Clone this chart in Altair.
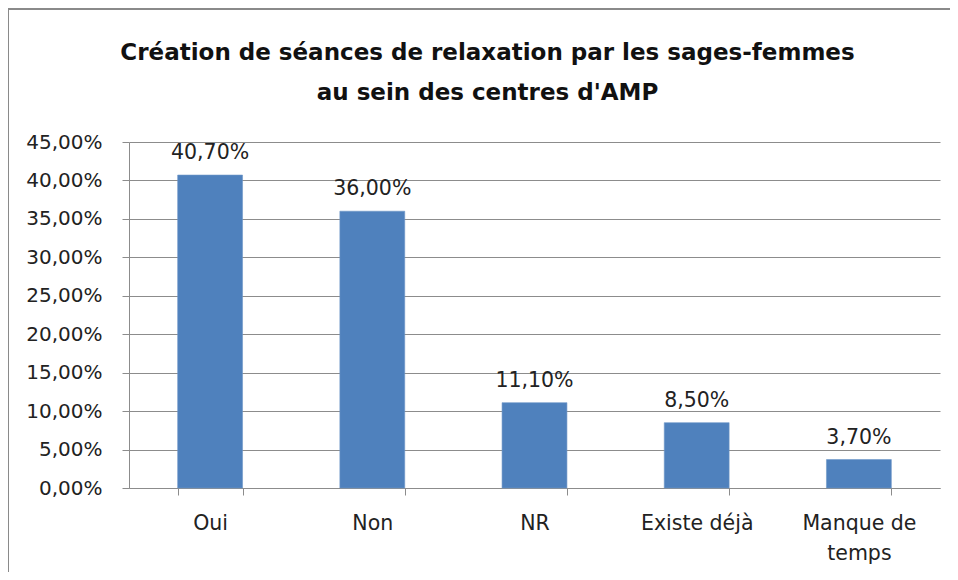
import altair as alt
import pandas as pd

categories = ["Oui", "Non", "NR", "Existe déjà", "Manque de temps"]
values = [0.407, 0.360, 0.111, 0.085, 0.037]
y_ticks = [0, 0.05, 0.10, 0.15, 0.20, 0.25, 0.30, 0.35, 0.40, 0.45]
title_lines = ["Création de séances de relaxation par les sages-femmes", "au sein des centres d'AMP"]

df = pd.DataFrame({"cat": categories, "val": values})

FONT = "DejaVu Sans"
GRID = "#8c8c8c"

x_axis = alt.Axis(labelAngle=0, labelFont=FONT, labelFontSize=20.5, labelColor="#222222",
                  domainColor=GRID, tickColor=GRID, tickSize=7, tickBand="extent",
                  labelPadding=18, labelLineHeight=30, labelBaseline="top",
                  labelExpr="datum.value == 'Manque de temps' ? ['Manque de', 'temps'] : datum.value")
y_axis = alt.Axis(values=y_ticks, tickCount=10, labelFont=FONT, labelFontSize=20, labelColor="#222222",
                  domainColor=GRID, tickColor=GRID, tickSize=7, labelPadding=20,
                  gridColor=GRID, grid=True, labelOverlap=False,
                  labelExpr="replace(format(datum.value, '.2%'), '.', ',')")
x_scale = alt.Scale(paddingInner=0.6, paddingOuter=0.3)
y_scale = alt.Scale(domain=[0, 0.45], nice=False)

base = alt.Chart(df)

bars = base.mark_bar(color="#4F81BD", stroke="#6f97c8", strokeWidth=0.6).encode(
    x=alt.X("cat:N", sort=categories, title=None, scale=x_scale, axis=x_axis),
    y=alt.Y("val:Q", title=None, scale=y_scale, axis=y_axis),
)

labels = base.mark_text(font=FONT, fontSize=20.5, color="#222222", baseline="bottom", dy=-12).transform_calculate(
    lab="replace(format(datum.val, '.2%'), '.', ',')"
).encode(
    x=alt.X("cat:N", sort=categories, title=None, scale=x_scale, axis=x_axis),
    y=alt.Y("val:Q", title=None, scale=y_scale, axis=y_axis),
    text="lab:N",
)

one = pd.DataFrame({"a": [0]})
border_top = alt.Chart(one).mark_rule(color="#8a8a8a", strokeWidth=2).encode(
    x=alt.value(-122), x2=alt.value(830), y=alt.value(-133)
)
border_left = alt.Chart(one).mark_rule(color="#8a8a8a", strokeWidth=2).encode(
    x=alt.value(-121), y=alt.value(-133), y2=alt.value(440)
)

chart = alt.layer(bars, labels, border_top, border_left).properties(
    width=811, height=346,
    title=alt.TitleParams(title_lines, font=FONT, fontSize=23, fontWeight="bold", color="#111111",
                          anchor="middle", dx=-47, dy=97, offset=0, lineHeight=40),
    autosize=alt.AutoSizeParams(type="none"),
    padding={"left": 121, "top": 134, "right": 10, "bottom": 84},
).configure_view(stroke=None).configure_axis(domainWidth=1, tickWidth=1, gridWidth=1)

chart.save("out.html", embed_options={"renderer": "svg", "actions": False})
